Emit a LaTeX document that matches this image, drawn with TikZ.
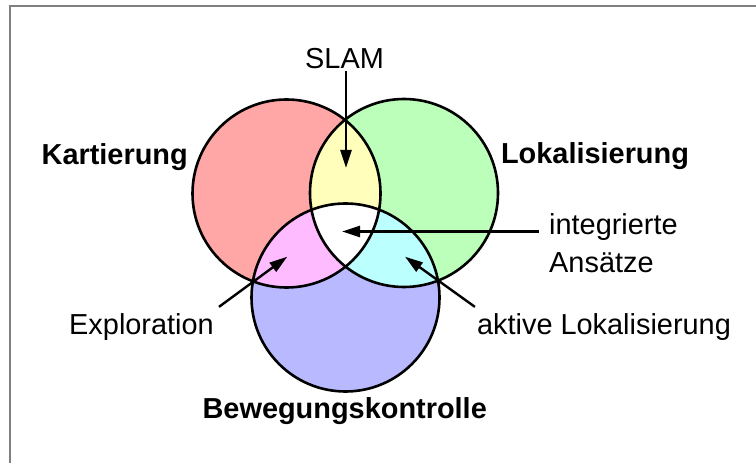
\documentclass[tikz,border=0pt]{standalone}
\usepackage{fontspec}
\setmainfont{Liberation Sans}
\usetikzlibrary{arrows.meta}
\definecolor{cred}{RGB}{255,166,166}
\definecolor{cgreen}{RGB}{187,255,187}
\definecolor{cblue}{RGB}{185,185,255}
\definecolor{cyellow}{RGB}{255,255,187}
\definecolor{cmag}{RGB}{255,187,255}
\definecolor{ccyan}{RGB}{187,255,255}
\definecolor{frame}{RGB}{128,128,128}
\begin{document}
\begin{tikzpicture}[x=1bp,y=-1bp,
  lbl/.style={inner sep=2bp, font=\fontsize{28.9bp}{37.5bp}\selectfont},
  blbl/.style={lbl, font=\fontsize{28.9bp}{37.5bp}\selectfont\bfseries},
  ring/.style={draw=black, line width=2.6bp},
  arr/.style={line width=2.4bp, -{Triangle[length=18bp,width=11bp]}}]
\useasboundingbox (0,0) rectangle (756,463);
\fill[white] (0,0) rectangle (756,463);
\draw[frame, line width=2bp] (9.8,470) -- (9.8,5.9) -- (760,5.9);

\coordinate (R) at (286.5,193.5);
\coordinate (G) at (404,193);
\coordinate (B) at (345.5,297.5);
\def\rr{94bp}

\fill[cred] (R) circle (\rr);
\fill[cgreen] (G) circle (\rr);
\fill[cblue] (B) circle (\rr);
\begin{scope}\clip (R) circle (\rr); \fill[cyellow] (G) circle (\rr);\end{scope}
\begin{scope}\clip (R) circle (\rr); \fill[cmag] (B) circle (\rr);\end{scope}
\begin{scope}\clip (G) circle (\rr); \fill[ccyan] (B) circle (\rr);\end{scope}
\begin{scope}\clip (R) circle (\rr); \clip (G) circle (\rr); \fill[white] (B) circle (\rr);\end{scope}
\draw[ring] (R) circle (\rr);
\draw[ring] (G) circle (\rr);
\draw[ring] (B) circle (\rr);

\node[lbl, anchor=base] (slam) at (344.5,69) {SLAM};
\node[blbl, anchor=base] (kart) at (114.7,165) {Kartierung};
\node[blbl, anchor=base] (lok) at (595,164) {Lokalisierung};
\node[blbl, anchor=base] (bew) at (344.7,418) {Bewegungskontrolle};
\node[lbl, anchor=base west] (int1) at (547,235) {integrierte};
\node[lbl, anchor=base west] (int2) at (547,272.7) {Ansätze};
\node[lbl, anchor=base] (expl) at (141.5,335) {Exploration};
\node[lbl, anchor=base] (akt) at (604,335) {aktive Lokalisierung};

\coordinate (tS) at (346,168);
\coordinate (tI) at (342,231.5);
\coordinate (tE) at (287.3,256.7);
\coordinate (tA) at (405,256.7);

\draw[arr] (slam.south -| tS) -- (tS);
\draw[arr] ([xshift=-8bp]int1.west |- tI) -- (tI);
\draw[arr] ([xshift=3bp,yshift=5bp]expl.north east) -- (tE);
\draw[arr] ([xshift=0bp,yshift=5bp]akt.north west) -- (tA);
\end{tikzpicture}
\end{document}
